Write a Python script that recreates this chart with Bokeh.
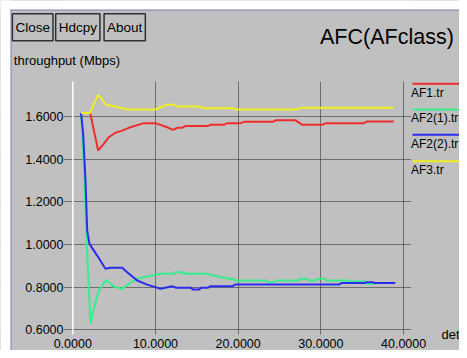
from bokeh.plotting import figure
from bokeh.models import Range1d, FixedTicker, PrintfTickFormatter, Span, Label, BoxAnnotation
from bokeh.embed import file_html
from bokeh.resources import INLINE

# ---------------- data ----------------
series_names = ["AF1.tr", "AF2(1).tr", "AF2(2).tr", "AF3.tr"]

af1_x = [1.0, 2.1, 3.07, 3.75, 4.35, 5.16, 5.97, 6.98, 8.6, 10.0, 11.4, 12.0, 12.3, 12.6, 13.2, 13.6,
         16.3, 16.7, 18.3, 18.7, 20.3, 20.7, 24.2, 24.6, 26.9, 27.3, 27.7, 30.2, 30.6, 35.2, 35.6, 38.8]
af1_y = [1.617, 1.617, 1.441, 1.472, 1.503, 1.524, 1.534, 1.550, 1.569, 1.569, 1.550, 1.539, 1.539, 1.547, 1.547, 1.555,
         1.555, 1.562, 1.562, 1.569, 1.569, 1.575, 1.575, 1.583, 1.583, 1.573, 1.562, 1.562, 1.569, 1.569, 1.577, 1.577]

af21_x = [1.0, 1.2, 1.41, 1.65, 1.9, 2.14, 2.54, 3.14, 4.04, 4.96, 5.97, 6.77, 7.78, 9.0, 10.6, 12.2, 12.5, 13.2, 13.6,
          16.3, 16.7, 17.3, 17.7, 18.3, 18.7, 19.3, 19.7, 23.3, 23.6, 24.2, 24.6, 27.3, 27.6, 28.3, 28.6, 29.3, 29.6,
          30.4, 30.7, 33.2, 33.5, 35.3, 35.5, 36.3, 36.5, 39.0]
af21_y = [1.617, 1.50, 1.30, 1.05, 0.83, 0.628, 0.698, 0.784, 0.834, 0.803, 0.792, 0.816, 0.839, 0.850, 0.863, 0.863, 0.870, 0.870, 0.863,
          0.863, 0.855, 0.855, 0.847, 0.847, 0.839, 0.839, 0.831, 0.831, 0.823, 0.823, 0.831, 0.831, 0.839, 0.839, 0.831, 0.831, 0.839,
          0.839, 0.831, 0.831, 0.826, 0.826, 0.816, 0.816, 0.819, 0.819]

af22_x = [1.0, 1.25, 1.54, 1.74, 2.02, 2.95, 3.95, 4.56, 5.97, 6.58, 7.78, 9.0, 10.0, 10.6, 11.2, 11.8, 12.2, 12.5, 14.3, 14.5,
          15.3, 15.5, 16.3, 16.6, 19.3, 19.6, 32.2, 32.5, 35.3, 35.5, 36.3, 36.5, 39.0]
af22_y = [1.617, 1.52, 1.30, 1.066, 1.003, 0.948, 0.886, 0.891, 0.891, 0.870, 0.831, 0.812, 0.800, 0.792, 0.797, 0.803, 0.803, 0.797, 0.797, 0.789,
          0.789, 0.797, 0.797, 0.804, 0.804, 0.812, 0.812, 0.819, 0.819, 0.823, 0.823, 0.819, 0.819]

af3_x = [1.0, 2.1, 3.07, 4.04, 4.56, 6.6, 10.0, 11.4, 12.3, 12.6, 15.4, 15.8, 19.3, 19.7, 27.1, 27.5, 38.8]
af3_y = [1.617, 1.617, 1.703, 1.655, 1.652, 1.633, 1.633, 1.655, 1.655, 1.647, 1.647, 1.639, 1.639, 1.633, 1.633, 1.641, 1.641]

series_x = [af1_x, af21_x, af22_x, af3_x]
series_y = [af1_y, af21_y, af22_y, af3_y]
series_colors = ["#ee2c2c", "#36ee8c", "#2c2cee", "#eeee22"]

x_ticks = [0, 10, 20, 30, 40]
y_ticks = [0.6, 0.8, 1.0, 1.2, 1.4, 1.6]

title_text = "AFC(AFclass)"
y_label = "throughput (Mbps)"
x_label = "det"
buttons = ["Close", "Hdcpy", "About"]

# ---------------- style / layout ----------------
GRAY = "#c0c0c0"
LAVENDER = "#9c9cc4"
FONT = "Liberation Sans"
W, H = 459, 350

# the frame fills the whole canvas; axes are pinned at fixed locations
p = figure(width=W, height=H, output_backend="svg", toolbar_location=None, title=None,
           x_range=Range1d(-8.74, 46.76), y_range=Range1d(0.503, 2.144),
           min_border_left=0, min_border_right=0, min_border_top=0, min_border_bottom=0,
           background_fill_color=GRAY, border_fill_color=GRAY, outline_line_color=None)

for ax in (p.xaxis[0], p.yaxis[0]):
    ax.formatter = PrintfTickFormatter(format="%.4f")
    ax.axis_line_color = None
    ax.major_tick_line_color = None
    ax.minor_tick_line_color = None
    ax.major_tick_in = 0
    ax.major_tick_out = 0
    ax.major_label_text_font = FONT
    ax.major_label_text_font_size = "12.5px"
    ax.major_label_text_color = "#000000"
p.xaxis[0].ticker = FixedTicker(ticks=x_ticks)
p.yaxis[0].ticker = FixedTicker(ticks=y_ticks)
p.xaxis[0].fixed_location = 0.5827
p.yaxis[0].fixed_location = -1.0
p.xaxis[0].major_label_standoff = 5
p.yaxis[0].major_label_standoff = 1

p.grid.grid_line_color = "#1c1c1c"
p.grid.grid_line_dash = "1 1"
p.grid.grid_line_width = 1


def sx(px):
    return px


def sy(py):
    return H - py


def box(l, r, t, b, color, level="annotation"):
    return BoxAnnotation(left=sx(l), right=sx(r), top=sy(t), bottom=sy(b),
                         left_units="screen", right_units="screen", top_units="screen", bottom_units="screen",
                         fill_color=color, fill_alpha=1, line_color=None, level=level)


def label(text, x, y, size, align="left", **kw):
    return Label(text=text, x=sx(x), y=sy(y), x_units="screen", y_units="screen",
                 text_align=align, text_baseline="middle", text_font=FONT, text_font_size=size,
                 text_color="#000000", **kw)


# white zero line, then mask the grid outside the plotting area
p.add_layout(Span(location=0, dimension="height", line_color="white", line_width=1.5, level="underlay"))
for l, r, t, b in [(-20, 63.5, -20, 400), (410.5, 480, -20, 400), (-20, 480, -20, 81), (-20, 480, 334, 400)]:
    p.add_layout(box(l, r, t, b, GRAY, level="underlay"))

for xs, ys, c in zip(series_x, series_y, series_colors):
    p.line(xs, ys, line_color=c, line_width=2)

# window border
for l, r, t, b, c in [(-20, 480, -20, 9, "white"), (-20, 10, -20, 400, "white"),
                      (10, 480, 9, 10.5, LAVENDER), (10, 11.5, 9, 400, LAVENDER)]:
    p.add_layout(box(l, r, t, b, c))

p.add_layout(label(title_text, 453.3, 36.0, "21.5px", align="right"))
p.add_layout(label(y_label, 13.3, 59.7, "13px"))
p.add_layout(label(x_label, 441, 334.0, "13px"))

btn_cx = [32.2, 77.3, 124.2]
for name, cx in zip(buttons, btn_cx):
    p.add_layout(label(name, cx, 26.7, "13.5px", align="center",
                       border_line_color="#303030", border_line_width=1.5,
                       padding=dict(left=3, right=3, top=6, bottom=6)))

leg_line_y = [83.3, 109.0, 134.3, 160.7]
leg_text_y = [92.5, 117.8, 143.5, 169.8]
for name, c, ly, ty in zip(series_names, series_colors, leg_line_y, leg_text_y):
    p.add_layout(box(412, 480, ly - 1, ly + 1, c))
    p.add_layout(label(name, 410.5, ty, "12px"))

open("out.html", "w").write(file_html(p, INLINE))
